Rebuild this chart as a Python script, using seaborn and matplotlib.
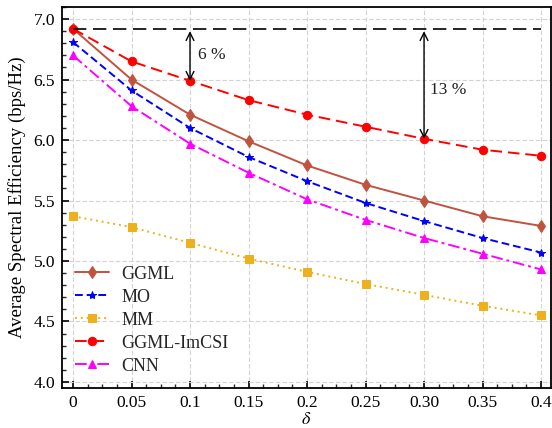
import matplotlib
matplotlib.use("Agg")
import matplotlib.pyplot as plt
import seaborn as sns
import pandas as pd
from matplotlib.ticker import AutoMinorLocator

sns.set_theme(style="whitegrid")
plt.rcParams['font.family'] = ['Liberation Serif', 'DejaVu Serif']
plt.rcParams['mathtext.fontset'] = 'stix'

delta = [0, 0.05, 0.1, 0.15, 0.2, 0.25, 0.3, 0.35, 0.4]
xtick_labels = ["0", "0.05", "0.1", "0.15", "0.2", "0.25", "0.30", "0.35", "0.4"]
ggml = [6.92, 6.50, 6.21, 5.99, 5.79, 5.63, 5.50, 5.37, 5.29]
mo = [6.81, 6.41, 6.10, 5.86, 5.66, 5.48, 5.33, 5.19, 5.07]
mm = [5.37, 5.28, 5.15, 5.02, 4.91, 4.81, 4.72, 4.63, 4.55]
ggml_imcsi = [6.92, 6.65, 6.49, 6.33, 6.21, 6.11, 6.01, 5.92, 5.87]
cnn = [6.70, 6.28, 5.97, 5.73, 5.51, 5.34, 5.19, 5.06, 4.93]
upper_bound = 6.92

series = [
    ("GGML", ggml, "#C0533E", "-", "d", 6),
    ("MO", mo, "#0000FF", (0, (4, 2)), "*", 6),
    ("MM", mm, "#EDB120", (0, (1, 2)), "s", 6),
    ("GGML-ImCSI", ggml_imcsi, "#FF0000", (0, (6, 3)), "o", 6),
    ("CNN", cnn, "#FF00FF", (0, (6, 2, 1.5, 2)), "^", 6),
]

fig = plt.figure(figsize=(5.52, 4.28), dpi=100)
ax = fig.add_axes([62/552, 40/428, (551-62)/552, (388-7)/428])

for name, vals, color, ls, mk, ms in series:
    df = pd.DataFrame({"delta": delta, "val": vals})
    sns.lineplot(data=df, x="delta", y="val", ax=ax, color=color, linestyle=ls,
                 marker=mk, markersize=ms, markeredgecolor=color, label=name,
                 linewidth=1.4)

ax.plot([delta[0], delta[-1]], [upper_bound, upper_bound], color="black",
        linestyle=(0, (8, 4)), linewidth=1.2)

ax.annotate("", xy=(0.1, ggml_imcsi[2]), xytext=(0.1, 6.90),
            arrowprops=dict(arrowstyle="<->", color="black", lw=1.0, mutation_scale=14,
                            shrinkA=0, shrinkB=0))
ax.annotate("", xy=(0.3, ggml_imcsi[6]), xytext=(0.3, 6.90),
            arrowprops=dict(arrowstyle="<->", color="black", lw=1.0, mutation_scale=14,
                            shrinkA=0, shrinkB=0))
ax.text(0.107, 6.70, "6 %", fontsize=12.5, va="center", ha="left", color="#222222")
ax.text(0.305, 6.41, "13 %", fontsize=12.5, va="center", ha="left", color="#222222")

ax.set_xlim(-0.0094, 0.4085)
ax.set_ylim(3.95, 7.1)
ax.set_xticks(delta)
ax.set_xticklabels(xtick_labels)
ax.set_yticks([4.0, 4.5, 5.0, 5.5, 6.0, 6.5, 7.0])
ax.set_yticklabels(["4.0", "4.5", "5.0", "5.5", "6.0", "6.5", "7.0"])
ax.xaxis.set_minor_locator(AutoMinorLocator(4))
ax.yaxis.set_minor_locator(AutoMinorLocator(5))
ax.tick_params(axis="both", which="major", direction="in", length=5, width=1.2,
               labelsize=12.5, colors="black", bottom=True, left=True, pad=5)
ax.tick_params(axis="both", which="minor", direction="in", length=3, width=1.0,
               bottom=True, left=True)
ax.set_xlabel(r"$\delta$", fontsize=13, color="black", labelpad=0)
ax.set_ylabel("Average Spectral Efficiency (bps/Hz)", fontsize=13.5, color="black", labelpad=5)

ax.grid(True, which="major", color="#D3D3D3", linestyle=(0, (4, 2)), linewidth=0.8)
ax.grid(False, which="minor")
ax.set_facecolor("white")
for sp in ax.spines.values():
    sp.set_color("black")
    sp.set_linewidth(1.3)

leg = ax.legend(loc="lower left", bbox_to_anchor=(0.0, 0.002), frameon=False,
                fontsize=13, handlelength=1.9, handletextpad=0.7,
                labelspacing=0.33, borderaxespad=0.3)

fig.savefig("out.png", dpi=100)
